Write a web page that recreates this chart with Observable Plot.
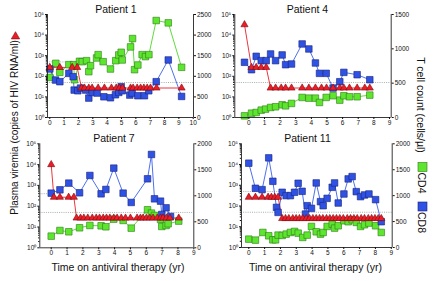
<!DOCTYPE html>
<html><head><meta charset="utf-8">
<script src="https://cdn.jsdelivr.net/npm/d3@7"></script>
<script src="https://cdn.jsdelivr.net/npm/@observablehq/plot@0.6"></script>
<style>
body{margin:0;background:#fff;}
#wrap{position:relative;width:435px;height:281px;font-family:"Liberation Sans",Arial,sans-serif;}
#wrap svg{position:absolute;left:0;top:0;}
</style></head><body><div id="wrap"></div>
<script>
// ---- data: [time (yr), value] ----
const p1CD4 = [[0,974],[0.42,1315],[0.7,1096],[1.33,1283],[1.67,1283],[1.72,917],[2.07,1364],[2.26,1355],[2.56,1380],[2.72,1112],[2.84,1258],[3.26,1445],[3.37,1526],[3.72,1355],[4.23,1177],[4.6,1380],[4.81,1518],[4.98,1583],[5.05,1396],[5.63,1713],[5.77,1916],[5.91,1161],[6.14,1274],[6.44,1526],[6.67,1478],[6.91,1526],[7.42,2354],[8.26,2297],[9.19,1218]];
const p1CD8 = [[0,1177],[0.4,909],[0.7,869],[1.33,1071],[1.63,990],[1.7,666],[1.95,649],[2.14,714],[2.5,666],[2.72,471],[2.95,609],[3.3,593],[3.77,503],[4.23,479],[4.58,552],[4.81,609],[4.98,747],[5.05,649],[5.58,544],[5.74,593],[6.14,528],[6.6,528],[6.9,649],[7.42,869],[8.26,1396],[9.19,511]];
const p1Vir = [[0,270],[0.7,270],[1.56,270],[1.91,270],[2.21,27],[2.42,27],[2.72,27],[2.95,27],[3.37,27],[3.81,27],[4.3,27],[4.63,27],[4.86,27],[5.07,27],[5.63,27],[5.81,27],[6.09,27],[6.33,27],[6.56,27],[6.79,27],[7.02,27],[7.44,27],[9.19,27]];

const p4CD4 = [[-0.28,24],[0.17,63],[0.47,73],[0.79,107],[1.07,122],[1.39,146],[1.71,156],[2.13,185],[2.35,170],[2.73,205],[3.41,292],[3.84,282],[4.26,282],[4.52,219],[4.95,292],[5.39,317],[5.82,253],[6.08,317],[6.44,302],[6.93,302],[7.74,326]];
const p4CD8 = [[-0.28,804],[0.17,696],[0.47,891],[0.79,828],[1.11,828],[1.39,925],[1.71,828],[2.13,911],[2.35,769],[2.73,779],[3.41,1071],[3.84,998],[4.26,794],[4.52,643],[4.95,643],[5.39,429],[5.82,521],[6.08,657],[6.93,623],[7.74,550]];
const p4Vir = [[-0.28,32000],[0.17,270],[0.47,270],[0.79,270],[1.11,270],[1.39,27],[1.71,27],[2.07,27],[2.35,27],[2.73,27],[3.41,27],[3.84,27],[4.26,27],[4.65,27],[4.97,27],[5.39,27],[5.82,27],[6.08,27],[6.44,27],[6.93,27],[7.42,27],[7.74,27]];

const p7CD4 = [[0,224],[0.55,333],[1.11,308],[1.79,385],[2.44,429],[3.15,423],[3.45,404],[3.95,551],[4.54,526],[5.05,378],[6.08,731],[6.33,667],[6.52,622],[6.9,545],[6.98,410],[7.25,429],[7.38,462],[8.05,513]];
const p7CD8 = [[0,1051],[0.55,1115],[1.11,1244],[1.79,1058],[2.44,1391],[3.15,1038],[3.45,1122],[3.95,1532],[4.54,1051],[5.05,872],[6.08,1327],[6.33,1795],[6.52,942],[6.9,897],[6.98,641],[7.25,769],[7.53,603]];
const p7Vir = [[0,10000],[0.17,270],[0.55,270],[1.1,270],[1.43,270],[1.6,27],[1.85,27],[2.06,27],[2.31,27],[2.59,27],[2.84,27],[3.05,27],[3.28,27],[3.49,27],[3.7,27],[3.95,27],[4.16,27],[4.42,27],[4.69,27],[5.0,27],[5.42,27],[5.63,27],[5.8,27],[6.01,27],[6.22,27],[6.43,27],[6.69,27],[6.9,27],[7.06,27],[7.27,27],[7.49,27],[8.05,27]];

const p11CD4 = [[0,161],[0.42,142],[0.89,290],[1.26,226],[1.52,148],[1.69,148],[1.85,239],[2.11,232],[2.36,258],[2.63,290],[2.89,310],[3.12,277],[3.41,194],[3.69,239],[3.96,406],[4.26,303],[4.53,258],[4.7,290],[4.95,406],[5.27,452],[5.42,374],[5.65,419],[6.01,516],[6.28,497],[6.53,535],[6.79,484],[7.06,406],[7.31,439],[7.59,471],[8.01,419],[8.37,290]];
const p11CD8 = [[0,1626],[0.42,1142],[0.84,1116],[1.26,1729],[1.52,1277],[1.75,774],[1.85,677],[2.11,1065],[2.36,1000],[2.63,1000],[2.89,1065],[3.12,1239],[3.37,1084],[3.58,645],[3.69,806],[3.96,755],[4.26,1245],[4.53,884],[4.7,806],[4.95,948],[5.27,1161],[5.42,1245],[5.65,858],[6.01,1032],[6.28,1323],[6.53,1368],[6.79,1077],[7.06,981],[7.31,1013],[7.59,1032],[8.01,923],[8.37,497]];
const p11Vir = [[0,265],[0.42,265],[0.84,265],[1.22,265],[1.43,265],[1.64,265],[1.85,265],[2.11,25],[2.32,25],[2.53,25],[2.78,25],[2.99,25],[3.2,25],[3.41,25],[3.63,25],[3.84,25],[4.05,25],[4.26,25],[4.47,25],[4.68,25],[4.91,25],[5.12,25],[5.33,25],[5.54,25],[5.75,25],[5.97,25],[6.22,25],[6.43,25],[6.64,25],[6.85,25],[7.1,25],[7.31,25],[7.55,25],[7.76,25],[7.97,25],[8.18,25],[8.37,25]];

const titles = ["Patient 1","Patient 4","Patient 7","Patient 11"];
const logTicks = [1,10,100,1000,10000,100000];
const cellMax = [2500,1500,2000,2000];
const detectLimit = 50;
const oldLimit = [500,null,400,500];
const oldLimitEnd = [2.0,null,0.05,2.1];
const xTicks10 = [0,1,2,3,4,5,6,7,8,9,10];
const xTicks9 = [0,1,2,3,4,5,6,7,8,9];

// ---- layout ----
const W = 435, H = 281;
const frames = [
  {l:47, r:193, t:14, b:117, xd:[-0.16,10.02], xt:xTicks10},
  {l:234.3, r:390.7, t:14, b:117, xd:[-0.9,9.11], xt:xTicks9},
  {l:39.3, r:193.3, t:143.3, b:247.3, xd:[-0.72,9.0], xt:xTicks9},
  {l:241, r:391.7, t:143.3, b:247, xd:[-0.46,9.06], xt:xTicks9}
];
const series = [[p1CD4,p1CD8,p1Vir],[p4CD4,p4CD8,p4Vir],[p7CD4,p7CD8,p7Vir],[p11CD4,p11CD8,p11Vir]];

const GREEN = "#5ee62f", GREEN_S = "#2c7a16", GREEN_L = "#4fd626";
const BLUE = "#2f52e4", BLUE_S = "#17237a", BLUE_L = "#3a60ea";
const RED = "#ec1d27", RED_S = "#7a0a10", RED_L = "#e8202a";
const sup = {"0":"\u2070","1":"\u00b9","2":"\u00b2","3":"\u00b3","4":"\u2074","5":"\u2075"};
const minorTicks = [];
for (let k = 0; k < 5; k++) for (let m = 2; m <= 9; m++) minorTicks.push(m * 10 ** k);

const wrap = document.getElementById("wrap");
const lg = Math.log10;

frames.forEach((f, i) => {
  const [cd4, cd8, vir] = series[i];
  const max = cellMax[i];
  // shared vertical scale in decades (0..5): viremia on log axis, cells on linear right axis
  const tc = c => 5 * c / max;
  const rTicks = d3.range(0, max + 1, 500);
  const axisStyle = {tickSize: 2, fontSize: 6.5, label: null};
  const marks = [
    Plot.ruleY([detectLimit], {y: lg, stroke: "#8f9c9c", strokeWidth: 0.8, strokeDasharray: "1,1.2"}),
    oldLimit[i] ? Plot.ruleY([oldLimit[i]], {y: lg, x1: f.xd[0], x2: oldLimitEnd[i], stroke: "#8f9c9c", strokeWidth: 0.8, strokeDasharray: "1,1.2"}) : null,
    Plot.line(cd4, {x: d => d[0], y: d => tc(d[1]), stroke: GREEN_L, strokeWidth: 0.9}),
    Plot.line(cd8, {x: d => d[0], y: d => tc(d[1]), stroke: BLUE_L, strokeWidth: 0.9}),
    Plot.line(vir, {x: d => d[0], y: d => lg(d[1]), stroke: RED_L, strokeWidth: 0.9}),
    Plot.dot(cd4, {x: d => d[0], y: d => tc(d[1]), symbol: "square", r: 3.7, fill: GREEN, stroke: GREEN_S, strokeWidth: 0.6}),
    Plot.dot(cd8, {x: d => d[0], y: d => tc(d[1]), symbol: "square", r: 3.7, fill: BLUE, stroke: BLUE_S, strokeWidth: 0.6}),
    Plot.dot(vir, {x: d => d[0], y: d => lg(d[1]), symbol: "triangle", r: 2.65, fill: RED, stroke: RED_S, strokeWidth: 0.6}),
    Plot.ruleX([f.xd[0]], {stroke: "#222", strokeWidth: 0.9}),
    Plot.ruleX([f.xd[1]], {stroke: "#222", strokeWidth: 0.9}),
    Plot.ruleY([0], {stroke: "#222", strokeWidth: 0.9}),
    Plot.axisY(logTicks.map(lg), {anchor: "left", ...axisStyle, tickPadding: 1.5, tickFormat: v => "10" + sup[String(Math.round(v))]}),
    Plot.axisY(minorTicks.map(lg), {anchor: "left", tickSize: 1.2, tickFormat: () => "", label: null}),
    Plot.axisY(rTicks.map(tc), {anchor: "right", ...axisStyle, tickPadding: 1.5, tickFormat: v => String(Math.round(v * max / 5))}),
    Plot.axisX(f.xt, {anchor: "bottom", ...axisStyle, tickPadding: 1})
  ].filter(Boolean);
  const svg = Plot.plot({
    width: W, height: H,
    marginLeft: f.l, marginRight: W - f.r, marginTop: f.t, marginBottom: H - f.b,
    x: {domain: f.xd},
    y: {type: "linear", domain: [0, 5]},
    style: "background:transparent;overflow:visible;position:absolute;left:0;top:0;font-family:'Liberation Sans',Arial,sans-serif;color:#111;",
    marks
  });
  wrap.appendChild(svg);
});

// ---- overlay: titles, axis titles, legend ----
const ov = d3.select(wrap).append("svg")
  .attr("width", W).attr("height", H)
  .style("position", "absolute").style("left", 0).style("top", 0)
  .style("font-family", "'Liberation Sans',Arial,sans-serif").style("overflow", "visible");

const titlePos = [[116, 8.5], [307.5, 8.5], [114, 137.8], [307.5, 137.8]];
titles.forEach((t, i) => {
  ov.append("text").attr("x", titlePos[i][0]).attr("y", titlePos[i][1])
    .attr("text-anchor", "middle").attr("dominant-baseline", "central")
    .attr("font-size", 10.5).attr("fill", "#111").text(t);
});
[[118, 267], [315.5, 267]].forEach(([x, y]) => {
  ov.append("text").attr("x", x).attr("y", y).attr("text-anchor", "middle")
    .attr("dominant-baseline", "central").attr("font-size", 10.5).attr("fill", "#111")
    .text("Time on antiviral therapy (yr)");
});
ov.append("text").attr("transform", "translate(14,127.5) rotate(-90)")
  .attr("text-anchor", "middle").attr("dominant-baseline", "central")
  .attr("font-size", 10).attr("fill", "#111").text("Plasma viremia (copies of HIV RNA/ml)");
ov.append("path")
  .attr("d", d3.symbol(d3.symbolTriangle, 30)()).attr("fill", RED).attr("stroke", RED_S).attr("stroke-width", 0.6)
  .attr("transform", "translate(15.5,36.5)");
ov.append("text").attr("transform", "translate(420.5,105) rotate(90)")
  .attr("text-anchor", "middle").attr("dominant-baseline", "central")
  .attr("font-size", 10.5).attr("fill", "#111").text("T cell count (cells/\u00b5l)");
[[GREEN, GREEN_S, "CD4", 162.5], [BLUE, BLUE_S, "CD8", 202]].forEach(([fc, sc, lab, y]) => {
  ov.append("rect").attr("x", 418).attr("y", y).attr("width", 9).attr("height", 9)
    .attr("fill", fc).attr("stroke", sc).attr("stroke-width", 0.6);
  ov.append("text").attr("transform", `translate(421.5,${y + 20.5}) rotate(90)`)
    .attr("text-anchor", "middle").attr("dominant-baseline", "central")
    .attr("font-size", 10.5).attr("fill", "#111").text(lab);
});
</script></body></html>
